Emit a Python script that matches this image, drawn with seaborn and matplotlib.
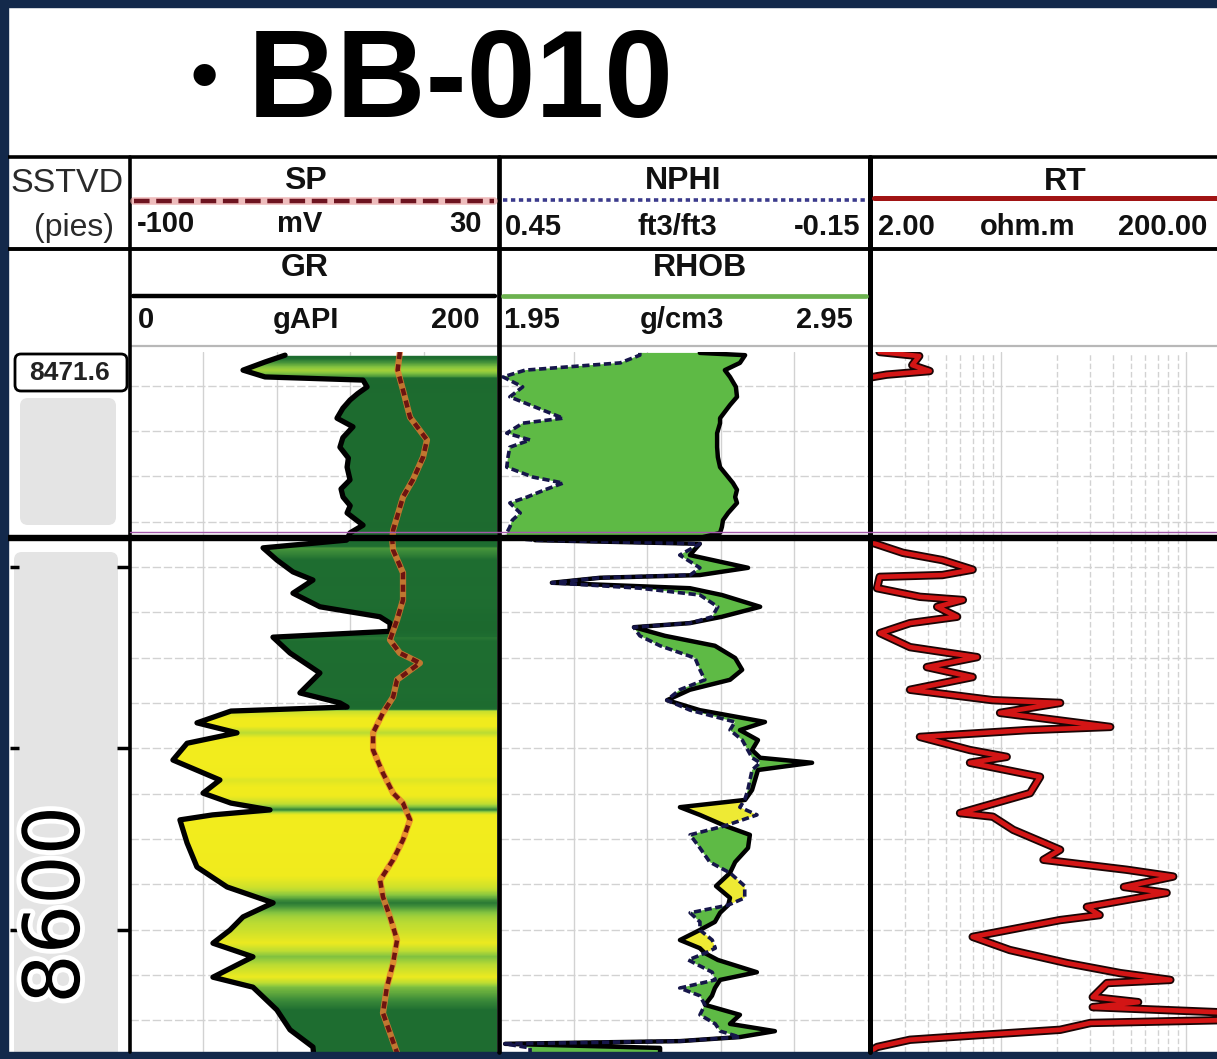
import numpy as np
import matplotlib
matplotlib.use("Agg")
import matplotlib.pyplot as plt
import matplotlib.patheffects as pe
from matplotlib.colors import LinearSegmentedColormap, Normalize
from matplotlib.patches import Rectangle, FancyBboxPatch
import seaborn as sns

sns.set_theme(style="white")
plt.rcParams["font.family"] = ["Liberation Sans", "DejaVu Sans"]

# ------------------------------------------------------------------ data
well_name = "BB-010"
top_depth_text = "8471.6"
depth_mark_text = "8600"
depth_header = ["SSTVD", "(pies)"]

sp_header = ("SP", "-100", "mV", "30")
gr_header = ("GR", "0", "gAPI", "200")
nphi_header = ("NPHI", "0.45", "ft3/ft3", "-0.15")
rhob_header = ("RHOB", "1.95", "g/cm3", "2.95")
rt_header = ("RT", "2.00", "ohm.m", "200.00")

sp_range = (-100, 30)
gr_range = (0, 200)
nphi_range = (0.45, -0.15)
rhob_range = (1.95, 2.95)
rt_range = (2.0, 200.0)

depth_range = (8472.6, 8627.0)
zone_break_depth = 8513.6
depth_ticks = [8520, 8560, 8600]
grid_depths = list(range(8480, 8621, 10))

gr_depth = [8473.3, 8474.8, 8476.6, 8478.1, 8478.8, 8480.3, 8481.8, 8483.2, 8485.0, 8487.2,
            8489.1, 8491.5, 8493.6, 8496.0, 8498.0, 8500.8, 8502.8, 8504.6, 8506.5, 8508.1,
            8510.8, 8512.5, 8514.1, 8515.8, 8518.5, 8521.1, 8522.9, 8525.8, 8528.8, 8531.0,
            8532.4, 8534.2, 8535.5, 8539.0, 8543.4, 8547.8, 8550.0, 8550.9, 8551.8, 8554.4,
            8556.6, 8558.9, 8562.6, 8567.0, 8569.9, 8572.1, 8573.6, 8574.7, 8575.8, 8580.9,
            8586.2, 8590.6, 8594.1, 8597.2, 8600.1, 8603.0, 8606.0, 8610.5, 8612.7, 8617.7,
            8622.1, 8625.9, 8627.2]
gr_api = [84.5, 73.6, 61.6, 73.6, 127.0, 129.2, 124.0, 119.9, 116.0, 112.8,
          121.5, 116.0, 114.4, 119.0, 118.3, 119.9, 115.0, 116.1, 120.0, 118.3,
          127.0, 119.9, 118.0, 72.5, 80.1, 88.8, 99.7, 88.8, 103.5, 136.2,
          141.7, 141.7, 77.9, 87.2, 103.5, 92.6, 114.4, 118.3, 55.0, 36.5,
          58.3, 31.1, 23.4, 49.0, 39.8, 55.0, 76.3, 45.0, 27.2, 31.1,
          36.5, 52.9, 78.0, 61.6, 54.5, 45.2, 67.0, 45.2, 67.0, 80.0,
          87.2, 99.7, 100.0]

sp_depth = [8472.6, 8476.6, 8481.0, 8487.0, 8492.0, 8495.8, 8500.8, 8504.6, 8509.0, 8511.9,
            8514.1, 8516.3, 8521.3, 8527.3, 8531.7, 8536.1, 8539.0, 8541.2, 8544.9, 8548.7,
            8552.2, 8556.6, 8560.4, 8565.5, 8569.9, 8572.1, 8575.8, 8580.2, 8584.6, 8589.1,
            8592.8, 8597.2, 8602.3, 8607.4, 8612.7, 8618.4, 8622.8, 8627.2]
sp_mv = [-4.4, -5.2, -3.3, -0.8, 5.2, 3.8, 0.2, -3.3, -5.4, -6.8,
         -7.1, -6.8, -3.3, -3.3, -5.4, -7.9, -4.4, 2.7, -5.4, -6.8,
         -10.4, -13.9, -13.9, -10.4, -6.8, -3.3, -0.8, -3.3, -6.8, -11.4,
         -10.4, -7.9, -5.4, -6.8, -9.0, -10.4, -7.9, -5.4]

dens_depth = [8472.8, 8473.3, 8475.0, 8476.6, 8478.1, 8480.3, 8482.5, 8484.3, 8485.8, 8487.2,
              8488.3, 8490.5, 8492.0, 8493.6, 8495.8, 8498.0, 8500.2, 8501.5, 8503.0, 8504.6,
              8505.9, 8508.1, 8509.7, 8511.2, 8512.5, 8513.6,
              8514.1, 8514.9, 8517.4, 8520.2, 8521.8, 8522.4, 8523.5, 8524.7, 8526.2, 8528.8,
              8531.0, 8532.4, 8533.3, 8535.2, 8537.4, 8540.1, 8542.7, 8544.9, 8547.1, 8549.4,
              8551.6, 8554.2, 8556.0, 8558.2, 8560.4, 8562.1, 8563.2, 8564.8, 8569.2, 8571.4,
              8573.0, 8574.7, 8577.1, 8579.1, 8582.0, 8585.1, 8587.5, 8590.4, 8593.0, 8594.6,
              8596.3, 8598.3, 8600.1, 8602.3, 8604.1, 8605.2, 8606.7, 8609.4, 8611.1, 8612.9,
              8614.6, 8616.6, 8618.8, 8620.8, 8622.4, 8623.7, 8624.6, 8625.2, 8626.1, 8627.2]
rhob_gcc = [2.493, 2.616, 2.602, 2.561, 2.575, 2.591, 2.594, 2.575, 2.561, 2.548,
            2.548, 2.540, 2.540, 2.540, 2.542, 2.548, 2.570, 2.583, 2.594, 2.589,
            2.594, 2.570, 2.556, 2.553, 2.548, 2.493,
            2.045, 2.493, 2.466, 2.624, 2.493, 2.222, 2.091, 2.466, 2.553, 2.657,
            2.553, 2.466, 2.314, 2.398, 2.534, 2.589, 2.608, 2.575, 2.466, 2.404,
            2.493, 2.670, 2.602, 2.651, 2.635, 2.657, 2.798, 2.651, 2.635, 2.616,
            2.439, 2.493, 2.561, 2.629, 2.624, 2.589, 2.575, 2.537, 2.575, 2.570,
            2.548, 2.534, 2.493, 2.439, 2.493, 2.507, 2.542, 2.648, 2.548, 2.534,
            2.526, 2.507, 2.602, 2.575, 2.697, 2.602, 2.439, 1.964, 2.385, 2.385]
nphi_frac = [0.222, 0.222, 0.254, 0.409, 0.445, 0.413, 0.434, 0.401, 0.373, 0.347,
             0.413, 0.439, 0.401, 0.434, 0.437, 0.439, 0.396, 0.347, 0.377, 0.406,
             0.434, 0.417, 0.430, 0.434, 0.439, 0.439,
             0.393, 0.124, 0.157, 0.124, 0.140, 0.287, 0.365, 0.222, 0.124, 0.095,
             0.104, 0.140, 0.232, 0.222, 0.189, 0.132, 0.124, 0.116, 0.157, 0.178,
             0.140, 0.067, 0.075, 0.055, 0.046, 0.039, 0.026, 0.039, 0.046, 0.051,
             0.059, 0.031, 0.083, 0.140, 0.124, 0.108, 0.075, 0.051, 0.051, 0.078,
             0.140, 0.124, 0.124, 0.104, 0.099, 0.116, 0.143, 0.104, 0.099, 0.157,
             0.124, 0.116, 0.124, 0.099, 0.091, 0.059, 0.157, 0.442, 0.401, 0.401]

rt_depth = [8472.6, 8473.5, 8475.5, 8476.8, 8477.6, 8478.3, 8514.0, 8514.7, 8516.9, 8518.5,
            8520.6, 8521.8, 8522.2, 8524.7, 8526.6, 8527.3, 8528.8, 8531.0, 8532.4, 8534.6,
            8537.7, 8539.9, 8542.1, 8544.3, 8547.1, 8549.4, 8550.0, 8552.2, 8555.3, 8556.0,
            8557.5, 8560.4, 8561.9, 8563.2, 8566.3, 8569.9, 8574.3, 8575.1, 8578.0, 8582.4,
            8584.6, 8586.8, 8588.3, 8590.6, 8591.9, 8595.0, 8596.8, 8597.9, 8601.6, 8604.5,
            8607.4, 8609.6, 8611.1, 8611.8, 8614.9, 8616.0, 8617.1, 8618.4, 8619.9, 8620.6,
            8622.1, 8623.3, 8624.3, 8625.9, 8626.5]
rt_ohmm = [2.2, 3.6, 3.3, 4.1, 2.4, 1.9, 1.9, 2.02, 2.94, 4.8,
           7.0, 4.8, 2.2, 2.13, 3.63, 6.2, 4.5, 5.77, 3.21, 2.21,
           3.21, 7.4, 3.96, 7.0, 3.21, 9.0, 20.8, 9.84, 38.8, 13.8,
           3.63, 6.77, 10.7, 6.77, 16.2, 14.3, 5.98, 9.0, 11.6, 20.8,
           16.9, 47.6, 85.0, 46.0, 78.3, 29.0, 34.0, 20.8, 7.0, 11.1,
           22.7, 44.0, 82.0, 37.2, 31.2, 54.9, 31.2, 190.0, 190.0, 30.3,
           20.8, 7.4, 3.21, 2.13, 2.02]

# ------------------------------------------------------------------ layout helpers
W, H = 1217, 1059
fig = plt.figure(figsize=(W / 100, H / 100), dpi=100)
fig.patch.set_facecolor("white")


def frac_box(x0, y0, x1, y1):
    return [x0 / W, 1 - y1 / H, (x1 - x0) / W, (y1 - y0) / H]


def clean(ax):
    ax.set_xticks([])
    ax.set_yticks([])
    ax.set_xlabel("")
    ax.set_ylabel("")
    for s in ax.spines.values():
        s.set_visible(False)
    ax.patch.set_alpha(0)
    ax.grid(False)


TOP_Y, BOT_Y = 352, 1052
GRID_C = "#d2d2d2"

ov_bg = fig.add_axes([0, 0, 1, 1], zorder=0)
ov_bg.set_xlim(0, W)
ov_bg.set_ylim(H, 0)
ov_bg.axis("off")
ov_bg.add_patch(FancyBboxPatch((20, 398), 96, 127, boxstyle="round,pad=0,rounding_size=8",
                               fc="#e4e4e4", ec="none"))
ov_bg.add_patch(FancyBboxPatch((14, 552), 104, 510, boxstyle="round,pad=0,rounding_size=8",
                               fc="#e4e4e4", ec="none"))

ax_gr = fig.add_axes(frac_box(130, TOP_Y, 497, BOT_Y), zorder=2)
ax_sp = ax_gr.twiny()
ax_sp.set_zorder(3)
ax_dn = fig.add_axes(frac_box(500, TOP_Y, 868, BOT_Y), zorder=2)
ax_np = ax_dn.twiny()
ax_np.set_zorder(3)
ax_rt = fig.add_axes(frac_box(872, TOP_Y, 1242, BOT_Y), zorder=2)
ax_dp = fig.add_axes(frac_box(8, TOP_Y, 130, BOT_Y), zorder=3)

d_top, d_bot = depth_range
for ax in (ax_gr, ax_sp, ax_dn, ax_np, ax_rt, ax_dp):
    ax.set_ylim(d_bot, d_top)

ax_gr.set_xlim(*gr_range)
ax_sp.set_xlim(*sp_range)
ax_dn.set_xlim(*rhob_range)
ax_np.set_xlim(*nphi_range)
ax_rt.set_xscale("log")
ax_rt.set_xlim(*rt_range)
ax_dp.set_xlim(8, 130)

# ------------------------------------------------------------------ grids
for ax in (ax_gr, ax_dn, ax_rt):
    for d in grid_depths:
        ax.axhline(d, color=GRID_C, lw=1.0, ls=(0, (6, 2)), zorder=0.5)
for g in np.linspace(gr_range[0], gr_range[1], 6)[1:-1]:
    ax_gr.axvline(g, color=GRID_C, lw=1.0, zorder=0.5)
for g in np.linspace(rhob_range[0], rhob_range[1], 6)[1:-1]:
    ax_dn.axvline(g, color=GRID_C, lw=1.0, zorder=0.5)
for dec in (1, 10):
    for m in range(2, 10):
        v = dec * m
        if v > 2:
            ax_rt.axvline(v, color=GRID_C, lw=1.0, ls=(0, (4, 2)), zorder=0.5)
ax_rt.axvline(10, color=GRID_C, lw=1.0, zorder=0.5)
ax_rt.axvline(100, color=GRID_C, lw=1.0, zorder=0.5)

# ------------------------------------------------------------------ GR track
gr_cmap = LinearSegmentedColormap.from_list(
    "gr", [(0.0, "#f6ef1c"), (0.22, "#f0eb1e"), (0.29, "#bcdc33"), (0.33, "#86c540"),
           (0.37, "#3f8e3a"), (0.40, "#1f6e31"), (1.0, "#1a662d")])
z = np.linspace(d_top, d_bot, 1600)
gr_fine = np.interp(z, gr_depth, gr_api, left=np.nan, right=np.nan)
rgba = gr_cmap(Normalize(*gr_range)(gr_fine))
rgba[np.isnan(gr_fine)] = (1, 1, 1, 0)
img = np.repeat(rgba[:, None, :], 2, axis=1)
im = ax_gr.imshow(img, extent=[gr_range[0], gr_range[1], d_bot, d_top], aspect="auto",
                  origin="upper", interpolation="bilinear", zorder=1)
poly = ax_gr.fill_betweenx(gr_depth, gr_api, gr_range[1], facecolor="none", edgecolor="none")
im.set_clip_path(poly.get_paths()[0], transform=ax_gr.transData)

sns.lineplot(x=gr_api, y=gr_depth, orient="y", sort=False, estimator=None, ax=ax_gr,
             color="black", lw=3.8, legend=False, zorder=3)

# SP
sns.lineplot(x=sp_mv, y=sp_depth, orient="y", sort=False, estimator=None, ax=ax_sp,
             color="#ea7a30", lw=4.5, alpha=0.8, legend=False)
sns.lineplot(x=sp_mv, y=sp_depth, orient="y", sort=False, estimator=None, ax=ax_sp,
             color="#6e1410", lw=3.2, legend=False, linestyle=(0, (1.6, 1.2)))

# ------------------------------------------------------------------ NPHI / RHOB track
rhob_arr = np.asarray(rhob_gcc)
pts = ax_np.transData.transform(np.column_stack([nphi_frac, dens_depth]))
nphi_on_rhob = ax_dn.transData.inverted().transform(pts)[:, 0]
ax_dn.fill_betweenx(dens_depth, nphi_on_rhob, rhob_arr, where=nphi_on_rhob <= rhob_arr,
                    interpolate=True, color="#5eba45", lw=0, zorder=2)
ax_dn.fill_betweenx(dens_depth, nphi_on_rhob, rhob_arr, where=nphi_on_rhob > rhob_arr,
                    interpolate=True, color="#eeea34", lw=0, zorder=2)
sns.lineplot(x=rhob_gcc, y=dens_depth, orient="y", sort=False, estimator=None, ax=ax_dn,
             color="black", lw=3.2, legend=False, zorder=3)
sns.lineplot(x=nphi_frac, y=dens_depth, orient="y", sort=False, estimator=None, ax=ax_np,
             color="#16164a", lw=2.6, legend=False, linestyle=(0, (2, 1)))

# ------------------------------------------------------------------ RT track
sns.lineplot(x=rt_ohmm, y=rt_depth, orient="y", sort=False, estimator=None, ax=ax_rt,
             color="#1a0505", lw=6.0, legend=False, zorder=2)
sns.lineplot(x=rt_ohmm, y=rt_depth, orient="y", sort=False, estimator=None, ax=ax_rt,
             color="#d31515", lw=3.4, legend=False, zorder=3)

# ------------------------------------------------------------------ depth column ticks
ax_dp.hlines(depth_ticks, 10, 19, color="black", lw=2.5)
ax_dp.hlines(depth_ticks, 117, 130, color="black", lw=2.5)

for ax in (ax_gr, ax_sp, ax_dn, ax_np, ax_rt, ax_dp):
    clean(ax)
ax_gr.set_xlim(*gr_range)
ax_sp.set_xlim(*sp_range)
ax_dn.set_xlim(*rhob_range)
ax_np.set_xlim(*nphi_range)
ax_rt.set_xlim(*rt_range)
for ax in (ax_gr, ax_sp, ax_dn, ax_np, ax_rt, ax_dp):
    ax.set_ylim(d_bot, d_top)

# ------------------------------------------------------------------ foreground overlay
ov = fig.add_axes([0, 0, 1, 1], zorder=10)
ov.set_xlim(0, W)
ov.set_ylim(H, 0)
ov.axis("off")

navy = "#13294b"
ov.add_patch(Rectangle((0, 0), 8, H, color=navy))
ov.add_patch(Rectangle((0, 0), W, 7, color=navy))
ov.add_patch(Rectangle((0, 1052), W, 8, color=navy))

# title
ov.text(204, 80, "\u2022", fontsize=56, fontweight="bold", ha="center", va="center", color="black")
ov.text(248, 117, well_name, fontsize=89, fontweight="bold", ha="left", va="baseline", color="black")

# header grid lines
ov.plot([8, W], [157, 157], color="black", lw=2.6, solid_capstyle="butt")
ov.plot([8, W], [249, 249], color="black", lw=2.8, solid_capstyle="butt")
ov.plot([130, W], [346, 346], color="#b8b8b8", lw=1.6)
ov.plot([130, 130], [157, BOT_Y], color="black", lw=2.6)
ov.plot([499, 499], [157, BOT_Y], color="black", lw=3.4)
ov.plot([870, 870], [157, BOT_Y], color="black", lw=3.6)
ov.plot([8, W], [538, 538], color="black", lw=4.6, solid_capstyle="butt")
ov.plot([130, W], [532, 532], color="#a458ac", lw=1.0)

# header sample lines
ov.plot([134, 494], [201, 201], color="#e8a0a0", lw=5.5, alpha=0.7)
ov.plot([134, 494], [201, 201], color="#6e1420", lw=3.2, ls=(0, (3.5, 1.5)))
ov.plot([503, 866], [200, 200], color="#3a3a8c", lw=2.6, ls=(0, (1.2, 1.0)))
ov.plot([874, W], [198, 198], color="#a11414", lw=3.6)
ov.plot([133, 495], [296, 296], color="black", lw=3.2)
ov.plot([503, 866], [296, 296], color="#6cb24f", lw=3.4)

# header text
hdr = dict(fontsize=23, fontweight="bold", color="#111111", va="center")
unit = dict(fontsize=21, fontweight="bold", color="#111111", va="center")
ov.text(67, 183, depth_header[0], fontsize=24.5, color="#2a2a2a", ha="center", va="center")
ov.text(74, 228, depth_header[1], fontsize=23, color="#2a2a2a", ha="center", va="center")

ov.text(305, 181, sp_header[0], ha="center", **hdr)
ov.text(137, 224, sp_header[1], ha="left", **unit)
ov.text(300, 224, sp_header[2], ha="center", **unit)
ov.text(482, 224, sp_header[3], ha="right", **unit)

ov.text(305, 268, gr_header[0], ha="center", **hdr)
ov.text(138, 320, gr_header[1], ha="left", **unit)
ov.text(306, 320, gr_header[2], ha="center", **unit)
ov.text(480, 320, gr_header[3], ha="right", **unit)

ov.text(683, 181, nphi_header[0], ha="center", **hdr)
ov.text(505, 227, nphi_header[1], ha="left", **unit)
ov.text(677, 227, nphi_header[2], ha="center", **unit)
ov.text(860, 227, nphi_header[3], ha="right", **unit)

ov.text(700, 268, rhob_header[0], ha="center", **hdr)
ov.text(503, 320, rhob_header[1], ha="left", **unit)
ov.text(682, 320, rhob_header[2], ha="center", **unit)
ov.text(853, 320, rhob_header[3], ha="right", **unit)

ov.text(1065, 182, rt_header[0], ha="center", **hdr)
ov.text(878, 227, rt_header[1], ha="left", **unit)
ov.text(1028, 227, rt_header[2], ha="center", **unit)
ov.text(1207, 227, rt_header[3], ha="right", **unit)

# depth column labels
ov.add_patch(FancyBboxPatch((15, 354), 112, 37, boxstyle="round,pad=0,rounding_size=6",
                            fc="white", ec="black", lw=2))
ov.text(70, 373, top_depth_text, fontsize=19, fontweight="bold", ha="center", va="center",
        color="#222222")
ov.text(57, 905, depth_mark_text, rotation=90, fontsize=56, family=["DejaVu Sans"],
        ha="center", va="center", color="black",
        path_effects=[pe.withStroke(linewidth=7, foreground="white")])

fig.savefig("out.png", dpi=100, facecolor="white")
